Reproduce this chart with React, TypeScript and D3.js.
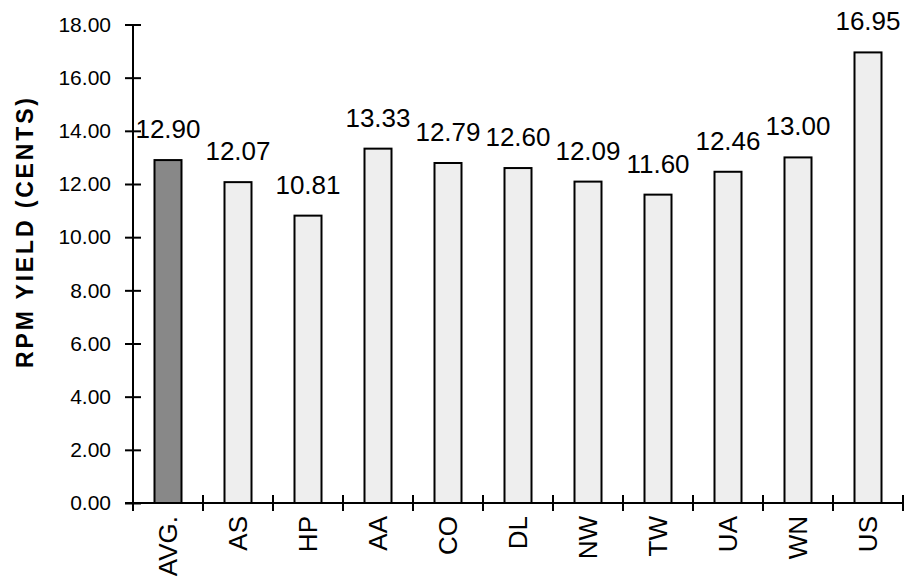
import React, { useRef, useEffect } from "react";
import * as d3 from "d3";

const carriers = ["AVG.", "AS", "HP", "AA", "CO", "DL", "NW", "TW", "UA", "WN", "US"];
const yields = [12.9, 12.07, 10.81, 13.33, 12.79, 12.6, 12.09, 11.6, 12.46, 13.0, 16.95];
const yTicks = [0, 2, 4, 6, 8, 10, 12, 14, 16, 18];

const FONT = "'Liberation Sans', Arial, Helvetica, sans-serif";

const App: React.FC = () => {
    const ref = useRef<SVGSVGElement | null>(null);

    useEffect(() => {
        const svg = d3.select(ref.current);
        svg.selectAll("*").remove();

        const left = 133;
        const right = 903;
        const top = 24.5;
        const bottom = 503;

        const x = d3.scaleBand<string>().domain(carriers).range([left, right]).padding(0);
        const y = d3.scaleLinear().domain([0, 18]).range([bottom, top]);
        const barW = 27;

        // bars
        svg.append("g")
            .selectAll("rect")
            .data(carriers)
            .enter()
            .append("rect")
            .attr("x", (d) => x(d)! + x.bandwidth() / 2 - barW / 2)
            .attr("y", (d, i) => y(yields[i]))
            .attr("width", barW)
            .attr("height", (d, i) => bottom - y(yields[i]))
            .attr("fill", (d, i) => (i === 0 ? "#888888" : "#eeeeee"))
            .attr("stroke", "#000")
            .attr("stroke-width", 2);

        // value labels
        svg.append("g")
            .selectAll("text")
            .data(carriers)
            .enter()
            .append("text")
            .attr("x", (d) => x(d)! + x.bandwidth() / 2)
            .attr("y", (d, i) => y(yields[i]) - 22)
            .attr("text-anchor", "middle")
            .style("font-family", FONT)
            .style("font-size", "26px")
            .attr("fill", "#000")
            .text((d, i) => yields[i].toFixed(2));

        // y axis
        const yAxis = d3
            .axisLeft(y)
            .tickValues(yTicks)
            .tickSize(8)
            .tickPadding(14)
            .tickFormat((d) => (d as number).toFixed(2));
        const gy = svg.append("g").attr("transform", `translate(${left},0)`).call(yAxis);
        gy.select(".domain").remove();
        gy.selectAll(".tick line").attr("x1", -8).attr("x2", 8).attr("stroke-width", 2);
        gy.selectAll("text").style("font-family", FONT).style("font-size", "21px").attr("fill", "#000");
        svg.append("line")
            .attr("x1", left)
            .attr("x2", left)
            .attr("y1", top)
            .attr("y2", bottom + 8)
            .attr("stroke", "#000")
            .attr("stroke-width", 2);

        // x axis, ticks sit between categories
        const bounds = d3.range(carriers.length + 1).map((i) => left + i * x.step());
        svg.append("line")
            .attr("x1", left - 8)
            .attr("x2", right)
            .attr("y1", bottom)
            .attr("y2", bottom)
            .attr("stroke", "#000")
            .attr("stroke-width", 2);
        svg.append("g")
            .selectAll("line")
            .data(bounds.slice(1))
            .enter()
            .append("line")
            .attr("x1", (d) => d)
            .attr("x2", (d) => d)
            .attr("y1", bottom - 8)
            .attr("y2", bottom + 8)
            .attr("stroke", "#000")
            .attr("stroke-width", 2);

        svg.append("g")
            .selectAll("text")
            .data(carriers)
            .enter()
            .append("text")
            .attr("transform", (d) => `translate(${x(d)! + x.bandwidth() / 2},516) rotate(-90)`)
            .attr("text-anchor", "end")
            .attr("dy", "0.35em")
            .style("font-family", FONT)
            .style("font-size", "26px")
            .attr("fill", "#000")
            .text((d) => d);

        // y title
        svg.append("text")
            .attr("transform", "translate(25,233) rotate(-90)")
            .attr("text-anchor", "middle")
            .attr("dy", "0.35em")
            .attr("textLength", 270)
            .attr("lengthAdjust", "spacing")
            .style("font-family", FONT)
            .style("font-size", "23px")
            .style("font-weight", "bold")
            .attr("fill", "#000")
            .text("RPM YIELD (CENTS)");
    }, []);

    return (
        <div>
            <svg
                ref={ref}
                width={908}
                height={582}
                style={{ position: "absolute", left: 0, top: 0, background: "#fff" }}
            ></svg>
        </div>
    );
};

export default App;
